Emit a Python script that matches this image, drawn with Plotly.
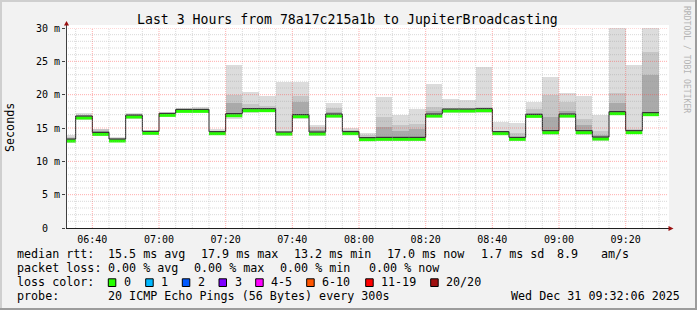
import plotly.graph_objects as go

DAY = "2025-12-31"
times = ["06:30", "06:35", "06:40", "06:45", "06:50", "06:55",
         "07:00", "07:05", "07:10", "07:15", "07:20", "07:25",
         "07:30", "07:35", "07:40", "07:45", "07:50", "07:55",
         "08:00", "08:05", "08:10", "08:15", "08:20", "08:25",
         "08:30", "08:35", "08:40", "08:45", "08:50", "08:55",
         "09:00", "09:05", "09:10", "09:15", "09:20", "09:25"]
END_TIME = "09:30"

# median rtt (ms)
median = [13.05, 16.5, 14.05, 13.05, 16.65, 14.2,
          16.9, 17.5, 17.5, 14.15, 16.85, 17.6,
          17.6, 14.1, 16.7, 14.1, 16.8, 14.15,
          13.25, 13.3, 13.3, 13.3, 16.8, 17.55,
          17.55, 17.6, 14.15, 13.3, 16.75, 14.3,
          16.8, 14.3, 13.35, 17.15, 14.3, 17.0]
# lowest / highest ping (outer smoke)
ping_min = [12.75, 16.25, 13.8, 12.85, 16.4, 13.95,
            16.65, 17.3, 17.3, 13.9, 16.3, 17.3,
            17.35, 13.85, 16.4, 13.85, 16.5, 13.9,
            13.0, 13.1, 13.1, 13.1, 16.5, 17.3,
            17.3, 17.3, 13.9, 13.1, 16.5, 14.0,
            16.5, 14.0, 13.1, 16.9, 14.05, 16.75]
ping_max = [13.95, 17.2, 14.85, 13.6, 17.3, 14.7,
            17.35, 17.95, 18.2, 14.8, 24.5, 20.45,
            19.75, 21.95, 21.95, 15.45, 18.8, 14.95,
            14.2, 19.6, 16.95, 17.85, 21.6, 19.35,
            19.2, 24.2, 15.95, 15.7, 18.95, 22.7,
            20.2, 19.85, 16.95, 31.0, 24.45, 31.0]
# upper edges of the denser smoke bands
mid_hi = [13.65, 17.0, 14.8, 13.45, 17.15, 14.55,
          17.2, 17.8, 17.9, 14.6, 19.95, 18.6,
          18.3, 14.5, 19.85, 15.1, 18.05, 14.7,
          13.9, 16.7, 15.45, 15.6, 18.1, 18.0,
          18.0, 18.2, 14.6, 14.2, 17.9, 19.95,
          18.9, 16.35, 14.5, 20.2, 14.8, 26.45]
inner_hi = [13.35, 16.8, 14.5, 13.3, 17.0, 14.4,
            17.1, 17.7, 17.75, 14.4, 18.7, 18.0,
            17.9, 14.3, 18.95, 14.7, 17.4, 14.5,
            13.6, 15.2, 14.5, 14.8, 17.6, 17.8,
            17.8, 17.9, 14.4, 13.7, 17.3, 16.7,
            17.5, 15.5, 13.9, 18.7, 14.6, 22.9]

ytick_vals = [0, 5, 10, 15, 20, 25, 30]
ytick_text = ["0\u00a0\u00a0", "5\u00a0m", "10\u00a0m", "15\u00a0m", "20\u00a0m", "25\u00a0m", "30\u00a0m"]

title = "Last 3 Hours from 78a17c215a1b to JupiterBroadcasting"
legend_line1 = [("median rtt:", 16), ("15.5 ms avg", 107.3), ("17.9 ms max", 200),
                ("13.2 ms min", 293.3), ("17.0 ms now", 386.7), ("1.7 ms sd", 480),
                ("8.9", 556.7), ("am/s", 600)]
legend_line2 = [("packet loss:", 16), ("0.00 % avg", 107.3), ("0.00 % max", 193.3),
                ("0.00 % min", 279.3), ("0.00 % now", 368.3)]
loss_labels = ["0", "1", "2", "3", "4-5", "6-10", "11-19", "20/20"]
loss_colors = ["#26ff00", "#00b8ff", "#0059ff", "#7e00ff", "#ff00ff", "#ff5500", "#ff0000", "#a01010"]
loss_box_x = [108.3, 145.7, 182.3, 219, 255.7, 306.7, 365.7, 430.7]
probe_text = "20 ICMP Echo Pings (56 Bytes) every 300s"
date_text = "Wed Dec 31 09:32:06 2025"

# ---- geometry (pixels) ----
W, H = 697, 310
L, T, PW, PH = 66, 28, 600, 200
MONO = "DejaVu Sans Mono"


def px(x):
    return (x - L) / PW


def py(y):
    return (T + PH - y) / PH


x_start = [f"{DAY} {t}:00" for t in times]
x_steps = x_start + [f"{DAY} {END_TIME}:00"]

fig = go.Figure()


def smoke(base, top, color):
    fig.add_trace(go.Bar(
        x=x_start, y=[t - b for t, b in zip(top, base)], base=base,
        width=300000, offset=0,
        marker=dict(color=color, line=dict(width=0)),
        hoverinfo="skip", showlegend=False))


smoke(ping_min, ping_max, "#dcdcdc")
smoke(median, mid_hi, "#c6c6c6")
smoke(median, inner_hi, "#aaaaaa")

gx, gy = [], []
for i in range(len(times)):
    gx += [x_steps[i], x_steps[i + 1], None]
    gy += [median[i], median[i], None]
fig.add_trace(go.Scatter(x=gx, y=gy, mode="lines", line=dict(color="#26ff00", width=3),
                         connectgaps=False, showlegend=False, hoverinfo="skip"))
fig.add_trace(go.Scatter(x=x_steps, y=median + [median[-1]], mode="lines",
                         line=dict(color="#202020", width=1, shape="hv"),
                         yaxis="y2", showlegend=False, hoverinfo="skip"))

shapes = []
# white canvas slightly larger than plot
shapes.append(dict(type="rect", xref="paper", yref="paper", x0=px(66), x1=px(669), y0=py(228), y1=py(25),
                   fillcolor="white", line=dict(width=0), layer="below"))
# grid (drawn over the smoke like rrdtool)
grid_minor = "rgba(150,150,150,0.35)"
grid_major = "rgba(255,60,60,0.42)"
for t in times[1:] + [END_TIME]:
    major = int(t.split(":")[1]) % 20 == 0
    xv = f"{DAY} {t}:00"
    shapes.append(dict(type="line", xref="x", yref="paper", x0=xv, x1=xv, y0=0, y1=1,
                       line=dict(color=grid_major if major else grid_minor, width=1, dash="1px,1px"),
                       layer="above"))
for v in range(1, 31):
    major = v % 5 == 0
    shapes.append(dict(type="line", xref="paper", yref="y", x0=0, x1=px(668), y0=v, y1=v,
                       line=dict(color=grid_major if major else grid_minor, width=1, dash="1px,1px"),
                       layer="above"))
# axes lines + arrows
shapes.append(dict(type="line", xref="paper", yref="paper", x0=px(66.5), x1=px(66.5), y0=py(228), y1=py(24),
                   line=dict(color="#404040", width=1), layer="above"))
shapes.append(dict(type="line", xref="paper", yref="paper", x0=px(66), x1=px(669), y0=py(228.5), y1=py(228.5),
                   line=dict(color="#202020", width=1), layer="above"))
arrow = "#9a1010"
shapes.append(dict(type="path", xref="paper", yref="paper",
                   path=f"M {px(64)} {py(25.5)} L {px(69)} {py(25.5)} L {px(66.5)} {py(21)} Z",
                   fillcolor=arrow, line=dict(width=0), layer="above"))
shapes.append(dict(type="path", xref="paper", yref="paper",
                   path=f"M {px(668.5)} {py(226)} L {px(668.5)} {py(231)} L {px(673.5)} {py(228.5)} Z",
                   fillcolor=arrow, line=dict(width=0), layer="above"))
# frame
for (x0, x1, y0, y1, c) in [(0, 697, 0, 2, "#cfcfcf"), (0, 2, 0, 310, "#cfcfcf"),
                            (0, 697, 308, 310, "#9c9c9c"), (695, 697, 0, 310, "#9c9c9c")]:
    shapes.append(dict(type="rect", xref="paper", yref="paper", x0=px(x0), x1=px(x1), y0=py(y1), y1=py(y0),
                       fillcolor=c, line=dict(width=0), layer="above"))
# loss colour boxes
for bx, c in zip(loss_box_x, loss_colors):
    shapes.append(dict(type="rect", xref="paper", yref="paper", x0=px(bx), x1=px(bx + 7.5),
                       y0=py(286.5), y1=py(278.8), fillcolor=c, line=dict(color="black", width=1), layer="above"))

annotations = []


def ann(text, x, y, size=11.7, xanchor="left", color="#000000", angle=0):
    annotations.append(dict(text=text.replace(" ", "\u00a0"), xref="paper", yref="paper",
                            x=px(x), y=py(y), xanchor=xanchor, yanchor="middle", showarrow=False,
                            font=dict(family=MONO, size=size, color=color), textangle=angle,
                            borderpad=0))


ann(title, 347.5, 20, size=13.2, xanchor="center")
ann("Seconds", 10, 128, size=11.7, xanchor="center", angle=-90)
ann("RRDTOOL / TOBI OETIKER", 687, 59, size=8.1, xanchor="center", color="#b4b4b4", angle=90)
for text, x in legend_line1:
    ann(text, x - 0.5, 254)
for text, x in legend_line2:
    ann(text, x - 0.5, 267.5)
ann("loss color:", 15.5, 281.5)
for bx, lab in zip(loss_box_x, loss_labels):
    ann(lab, bx + 14.5, 281.5)
ann("probe:", 15.5, 295.5)
ann(probe_text, 106.8, 295.5)
ann(date_text, 680.5, 295.5, xanchor="right")

fig.update_layout(
    width=W, height=H, autosize=False,
    margin=dict(l=L, r=W - L - PW, t=T, b=H - T - PH, pad=0),
    paper_bgcolor="#f2f2f2", plot_bgcolor="white",
    barmode="overlay", bargap=0,
    shapes=shapes, annotations=annotations, showlegend=False,
    xaxis=dict(type="date", range=[f"{DAY} 06:32:06", f"{DAY} 09:32:06"],
               tick0=f"{DAY} 06:40:00", dtick=1200000, tickformat="%H:%M",
               showgrid=False, zeroline=False, showline=False,
               ticks="outside", ticklen=2, tickcolor="rgba(0,0,0,0)",
               tickfont=dict(family=MONO, size=10, color="#000000"), fixedrange=True),
    yaxis=dict(range=[0, 30], tickvals=ytick_vals, ticktext=ytick_text,
               ticks="outside", ticklen=3, tickcolor="#404040", tickwidth=1,
               showgrid=False, zeroline=False, showline=False,
               tickfont=dict(family=MONO, size=10, color="#000000"), fixedrange=True),
    yaxis2=dict(overlaying="y", range=[-0.3, 29.7], visible=False, fixedrange=True),
)

fig.write_html("out.html")
